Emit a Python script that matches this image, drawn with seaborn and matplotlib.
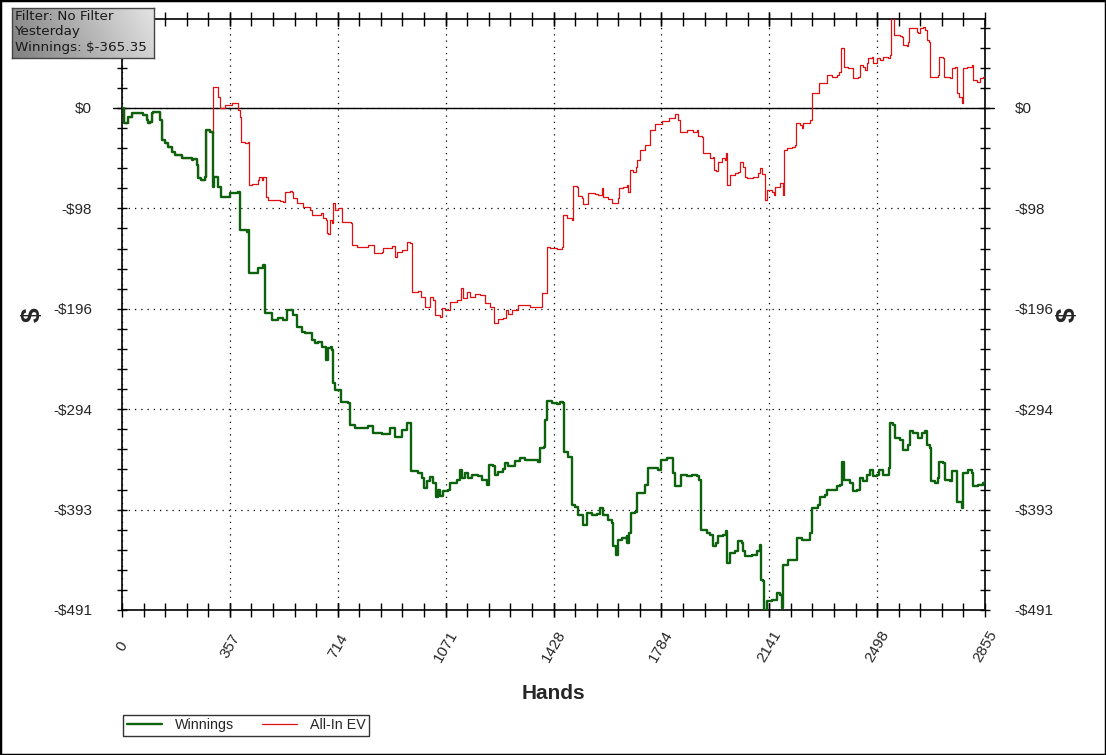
import numpy as np
import pandas as pd
import seaborn as sns
import matplotlib.pyplot as plt
from matplotlib.ticker import MultipleLocator
from matplotlib.patches import Rectangle

# winnings (green) - hands / dollars
win_hands = [0, 8, 21, 32, 54, 70, 82, 87, 93, 98, 104, 120, 126, 131, 142, 153, 164, 175, 198, 231,
             236, 247, 252, 261, 275, 277, 291, 299, 300, 304, 313, 319, 328, 357, 383, 390, 391, 413,
             418, 420, 429, 451, 467, 473, 495, 517, 534, 545, 556, 567, 578, 595, 605, 628, 639, 649,
             661, 674, 682, 691, 696, 699, 705, 718, 725, 749, 754, 771, 815, 831, 859, 887, 903, 925,
             942, 955, 956, 980, 991, 999, 1008, 1019, 1030, 1038, 1046, 1052, 1063, 1079, 1085, 1107,
             1118, 1124, 1135, 1146, 1157, 1179, 1190, 1207, 1215, 1226, 1234, 1245, 1261, 1267, 1278,
             1300, 1317, 1333, 1355, 1377, 1383, 1396, 1399, 1405, 1422, 1438, 1449, 1460, 1462, 1476,
             1488, 1490, 1499, 1510, 1526, 1537, 1554, 1570, 1581, 1592, 1609, 1620, 1625, 1634, 1642,
             1653, 1670, 1672, 1678, 1683, 1697, 1703, 1719, 1730, 1741, 1758, 1774, 1782, 1802, 1818,
             1824, 1829, 1840, 1848, 1868, 1885, 1901, 1910, 1915, 1934, 1945, 1956, 1965, 1973, 1989,
             1998, 2000, 2011, 2028, 2039, 2050, 2055, 2061, 2083, 2100, 2111, 2113, 2122, 2124, 2133,
             2149, 2166, 2177, 2182, 2188, 2204, 2226, 2232, 2249, 2276, 2282, 2303, 2309, 2326, 2331,
             2348, 2364, 2375, 2381, 2389, 2408, 2419, 2431, 2441, 2452, 2464, 2475, 2483, 2497, 2505,
             2519, 2538, 2541, 2552, 2557, 2574, 2585, 2601, 2607, 2618, 2634, 2646, 2656, 2662, 2673,
             2675, 2690, 2700, 2704, 2717, 2723, 2739, 2745, 2756, 2761, 2778, 2783, 2800, 2811, 2814,
             2833, 2849, 2855]
win_vals = [0, -15, -8.5, -5.2, -5.2, -6.8, -11.7, -15, -13.4, -5.2, -3.6, -4.2, -11.7, -31.3, -34.5,
            -37.9, -42.7, -46, -49.2, -50.9, -50.2, -55.8, -68.8, -70.4, -67.2, -21.5, -23.2, -23.8, -77,
            -67.2, -67.2, -77, -86.8, -83.4, -81.9, -96.5, -119.3, -121, -119.3, -161.7, -161.7, -156.8,
            -153.6, -200.8, -207.4, -205.7, -207.4, -197.6, -197.6, -202.5, -213.9, -218.8, -220.4,
            -226.9, -230.1, -228.6, -233.5, -246.5, -235, -233.5, -236.7, -269.3, -275.8, -275.8,
            -287.3, -288.8, -310.1, -313.3, -311, -318.1, -318.9, -313.3, -321.5, -314.9, -308.3, -311,
            -355.7, -357.3, -362.2, -372, -365.5, -361.2, -367.1, -380.2, -373.6, -379.5, -375.3,
            -373.6, -367.1, -364.5, -354.1, -362.2, -357.3, -362.2, -359, -360.6, -363.9, -368.7,
            -349.2, -350.8, -359, -355.8, -353.4, -347.5, -350.8, -345.9, -342.6, -344.3, -344.3,
            -346.9, -332.8, -331.3, -305.2, -286.3, -288.3, -289.5, -287.3, -288.3, -336.2, -341.1,
            -342.6, -388.3, -390, -398.1, -407.9, -396.4, -398.1, -397.1, -391.5, -398.1, -403, -406.2,
            -429.1, -437.2, -422.5, -420.9, -419.3, -425.8, -416, -396.4, -394.9, -376.9, -376.9,
            -368.7, -352.4, -352.4, -354.1, -344.3, -342.6, -342.6, -357.3, -370.4, -370.4, -359,
            -360.6, -359, -360.6, -363.9, -412.7, -416, -417.6, -429.1, -425.8, -419.3, -417.6, -414.4,
            -445.3, -435.5, -434, -424.2, -425.8, -434, -438.9, -437.2, -434, -427.4, -461.7, -463.3,
            -491, -482.9, -481.2, -474.7, -476.3, -489.3, -447, -442.1, -442.1, -420.9, -422.5, -416,
            -391.5, -388.3, -380.2, -378.5, -373.6, -373.6, -370.4, -368.7, -346, -363.9, -367.1,
            -375.3, -373.6, -362.2, -365.5, -359, -354.1, -360.6, -359, -354.1, -359, -352.4, -308.4,
            -310.1, -323.1, -324.7, -334.5, -329.6, -316.6, -318.1, -323.1, -318.1, -315.9, -329.6,
            -332.8, -365.5, -367.1, -362.2, -346, -347.5, -363.9, -364.8, -355.7, -355.7, -385.1,
            -391.5, -357.3, -354.1, -357.3, -370.4, -368.7, -367.1, -365.35]

# all-in EV (red)
ev_hands = [0, 8, 21, 32, 54, 70, 82, 87, 93, 98, 104, 120, 126, 131, 142, 153, 164, 175, 198, 231,
            236, 247, 252, 261, 275, 277, 291, 301, 302, 308, 315, 319, 324, 341, 363, 379, 385, 390,
            393, 407, 418, 420, 429, 449, 453, 462, 466, 473, 475, 484, 523, 534, 539, 556, 561, 567,
            578, 600, 622, 630, 649, 657, 666, 674, 677, 682, 688, 694, 699, 705, 716, 727, 729, 757,
            760, 776, 815, 826, 835, 859, 864, 892, 903, 909, 925, 942, 953, 958, 980, 988, 1002, 1019,
            1028, 1036, 1052, 1058, 1069, 1085, 1107, 1120, 1127, 1140, 1151, 1168, 1184, 1201, 1217,
            1231, 1245, 1261, 1270, 1278, 1289, 1311, 1328, 1350, 1372, 1383, 1388, 1399, 1405, 1416,
            1438, 1455, 1460, 1471, 1488, 1491, 1504, 1510, 1521, 1526, 1543, 1565, 1576, 1587, 1592,
            1609, 1620, 1631, 1640, 1645, 1658, 1672, 1675, 1681, 1692, 1700, 1705, 1714, 1730, 1747,
            1763, 1785, 1810, 1830, 1840, 1846, 1868, 1890, 1901, 1907, 1918, 1921, 1934, 1945, 1954,
            1958, 1965, 1973, 1984, 1995, 1998, 2000, 2011, 2028, 2039, 2044, 2053, 2061, 2067, 2088,
            2105, 2111, 2116, 2124, 2127, 2135, 2149, 2158, 2160, 2177, 2186, 2188, 2190, 2199, 2215,
            2226, 2230, 2243, 2249, 2254, 2276, 2282, 2284, 2298, 2307, 2320, 2331, 2348, 2364, 2373,
            2379, 2386, 2389, 2403, 2414, 2419, 2436, 2441, 2452, 2458, 2464, 2469, 2480, 2483, 2497,
            2508, 2519, 2535, 2541, 2543, 2551, 2554, 2574, 2579, 2585, 2596, 2601, 2604, 2618, 2623,
            2629, 2634, 2640, 2651, 2656, 2662, 2671, 2673, 2690, 2700, 2704, 2717, 2719, 2739, 2745,
            2756, 2761, 2770, 2778, 2783, 2794, 2811, 2814, 2828, 2838, 2849, 2855]
ev_vals = [0, -15, -8.5, -5.2, -5.2, -6.8, -11.7, -15, -13.4, -5.2, -3.6, -4.2, -11.7, -31.3, -34.5,
           -37.9, -42.7, -46, -49.2, -50.9, -50.2, -55.8, -68.8, -70.4, -67.2, -21.5, -23.2, -24.7,
           20.8, 20.8, 20.2, 11.1, -0.3, 2.9, 5.2, 4.6, -2, -8.5, -33, -33.9, -33, -75.3, -74.3, -70.4,
           -67.2, -70.4, -67.2, -67.2, -86.8, -90, -90.7, -91.6, -81.9, -80.9, -81.9, -88.3, -93.2,
           -96.5, -99.8, -104.7, -104.7, -103, -107.9, -109.5, -122.6, -123.2, -109.5, -112.7, -93.2,
           -99.8, -98.1, -101.4, -111.2, -112.8, -134, -135.7, -134, -134, -142.1, -140.6, -137.2,
           -135, -145.4, -140.6, -138.9, -130.8, -132.3, -179.7, -179, -184.6, -194.4, -184.6, -187.8,
           -202.5, -204.1, -195.9, -197.6, -189.5, -187.8, -176.4, -186.1, -179.7, -184.6, -181.9,
           -182.9, -191, -194.4, -210, -206.7, -205.7, -197.6, -201.5, -197.6, -192.7, -192.7, -194.4,
           -194.9, -194.4, -181.2, -181.2, -135.7, -137.2, -138.2, -136.2, -104.7, -107.9, -109.5,
           -76.3, -77, -86.1, -88.3, -93.9, -83.4, -84.1, -85.1, -78.5, -86.8, -89.3, -92.6, -93.2,
           -88.3, -78.5, -77, -75.3, -81.9, -60.6, -62.3, -57.4, -50.9, -41.1, -36.2, -22, -16, -13,
           -10, -6, -12, -23.2, -21.5, -23.2, -21.5, -27.1, -28.1, -44.3, -44.3, -49.2, -47.6, -60.6,
           -61.6, -52.5, -49.2, -50.9, -44.3, -75.3, -65.5, -63.9, -62.3, -52.5, -57.4, -67.2, -68.8,
           -67.2, -63.9, -59, -64.8, -64.8, -90, -80.2, -81.9, -85.1, -77, -73.7, -77, -85.1, -41.1,
           -39.4, -37.9, -36.2, -15, -16.6, -19.9, -15, -11.7, -1.3, 14.4, 14.4, 24.2, 24.2, 32.3,
           30.6, 32.3, 35.5, 58.4, 59, 40.4, 38.8, 38.8, 29, 30.6, 42.1, 40.4, 37.2, 43.7, 48.6, 50.2,
           43.7, 49.2, 46.9, 50.2, 48.6, 51.8, 96, 94, 71.4, 70.7, 69.7, 61.6, 60.9, 64.8, 78.5, 78.5,
           78, 74.6, 73.1, 78.5, 79.5, 76.3, 66.5, 64.8, 30.6, 30.6, 32.3, 50.2, 49.2, 30.6, 29.6,
           38.8, 40.4, 14.4, 11.1, 4.6, 38.8, 40.4, 42.1, 27.4, 25.7, 29, 30, 31]

x_ticks = [0, 357, 714, 1071, 1428, 1784, 2141, 2498, 2855]
y_ticks = [0, -98.25, -196.5, -294.75, -393, -491.25]
y_labels = ["$0", "-$98", "-$196", "-$294", "-$393", "-$491"]
info_lines = ["Filter: No Filter", "Yesterday", "Winnings: $-365.35"]

win_df = pd.DataFrame({"Hands": win_hands, "Value": win_vals})
ev_df = pd.DataFrame({"Hands": ev_hands, "Value": ev_vals})

sns.set_theme(style="white")
plt.rcParams["font.family"] = ["Liberation Sans", "DejaVu Sans"]

fig = plt.figure(figsize=(11.06, 7.55), dpi=100)
ax = fig.add_axes([122 / 1106, 1 - 610 / 755, 863 / 1106, 591 / 755])

sns.lineplot(data=ev_df, x="Hands", y="Value", ax=ax, color="#e01010", lw=0.9,
             estimator=None, sort=False, label="All-In EV", drawstyle="steps-post", zorder=3)
sns.lineplot(data=win_df, x="Hands", y="Value", ax=ax, color="#0d630d", lw=1.7,
             estimator=None, sort=False, label="Winnings", drawstyle="steps-post", zorder=4)

ax.set_xlim(0, 2855)
ax.set_ylim(-491.25, 87)

# zero line, sticking out a bit past both spines
ax.plot([-0.011, 1.011], [0, 0], transform=ax.get_yaxis_transform(), color="black",
        lw=1, clip_on=False, zorder=2)

ax.set_xticks(x_ticks)
ax.set_xticklabels([str(t) for t in x_ticks])
ax.set_yticks(y_ticks)
ax.set_yticklabels(y_labels)
ax.xaxis.set_minor_locator(MultipleLocator(356.875 / 5))
ax.yaxis.set_minor_locator(MultipleLocator(98.25 / 5))

ax.grid(which="major", color="black", linestyle=(0, (1, 4)), lw=0.9)
for s in ax.spines.values():
    s.set_color("black")
    s.set_linewidth(1.2)

ax.tick_params(axis="y", which="both", direction="inout", length=7, width=1, color="black",
               left=True, right=True, labelleft=True, labelright=True, labelsize=11, pad=18)
ax.tick_params(axis="x", which="both", direction="inout", length=10, width=1, color="black",
               bottom=True, top=True, labelsize=11, pad=21)
for lab in ax.get_xticklabels():
    lab.set_rotation(60)
    lab.set_rotation_mode("anchor")
    lab.set_ha("center")
    lab.set_va("center")

ax.set_xlabel("Hands", fontsize=15, fontweight="bold", labelpad=14)
ax.set_ylabel("")
fig.text(33 / 1106, 1 - 315 / 755, "$", fontsize=19, fontweight="bold", rotation=90,
         ha="center", va="center")
fig.text(1068 / 1106, 1 - 315 / 755, "$", fontsize=19, fontweight="bold", rotation=90,
         ha="center", va="center")

# legend below the plot
handles, labels = ax.get_legend_handles_labels()
order = [labels.index("Winnings"), labels.index("All-In EV")]
ax.get_legend().remove()
leg = fig.legend([handles[i] for i in order], [labels[i] for i in order],
                 loc="lower left", bbox_to_anchor=(123 / 1106, 1 - 736 / 755), ncol=2,
                 fontsize=10.3, frameon=True, fancybox=False, edgecolor="black",
                 borderaxespad=0, handlelength=2.5, columnspacing=1.9, borderpad=0.25,
                 handletextpad=0.9)
leg.get_frame().set_linewidth(1)

# info box top left, grey gradient
box = fig.add_axes([12 / 1106, 1 - 58 / 755, 142 / 1106, 50 / 755])
gx, gy = np.meshgrid(np.linspace(0, 1, 100), np.linspace(0, 1, 40))
box.imshow(0.56 + 0.33 * gx - 0.06 * gy, cmap="gray", vmin=0, vmax=1, aspect="auto",
           extent=(0, 1, 0, 1), origin="upper")
box.set_xticks([])
box.set_yticks([])
for s in box.spines.values():
    s.set_color("#444444")
    s.set_linewidth(1)
for i, line in enumerate(info_lines):
    box.text(0.02, 0.83 - i * 0.31, line, transform=box.transAxes, fontsize=9.7,
             family="DejaVu Sans", color="#1a1a1a", va="center", ha="left")

fig.patches.append(Rectangle((0, 0), 1, 1, transform=fig.transFigure, fill=False,
                             edgecolor="black", lw=2.5))

fig.savefig("out.png", dpi=100)
